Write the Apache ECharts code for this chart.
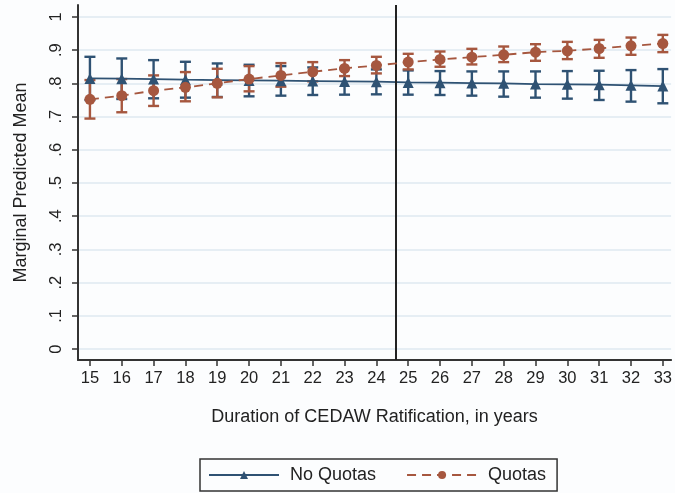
<!DOCTYPE html>
<html><head><meta charset="utf-8">
<script src="https://cdn.jsdelivr.net/npm/echarts@6/dist/echarts.min.js"></script>
<style>html,body{margin:0;padding:0;background:#fcfdfe}#c{width:675px;height:493px}</style>
</head><body><div id="c"></div>
<script>
const years = [15,16,17,18,19,20,21,22,23,24,25,26,27,28,29,30,31,32,33];
const noQuotaMean = [0.815,0.814,0.813,0.811,0.810,0.809,0.808,0.807,0.806,0.805,0.803,0.802,0.801,0.800,0.798,0.797,0.796,0.794,0.792];
const noQuotaLow  = [0.750,0.753,0.755,0.757,0.759,0.761,0.763,0.765,0.766,0.767,0.766,0.765,0.763,0.760,0.757,0.754,0.750,0.745,0.740];
const noQuotaHigh = [0.880,0.875,0.870,0.865,0.860,0.856,0.852,0.848,0.845,0.842,0.839,0.837,0.836,0.836,0.836,0.837,0.838,0.840,0.843];
const quotaMean = [0.752,0.763,0.778,0.788,0.800,0.813,0.824,0.835,0.845,0.854,0.864,0.872,0.879,0.886,0.894,0.898,0.905,0.913,0.920];
const quotaLow  = [0.694,0.713,0.732,0.746,0.758,0.776,0.790,0.806,0.822,0.830,0.842,0.850,0.857,0.864,0.868,0.873,0.877,0.886,0.894];
const quotaHigh = [0.810,0.813,0.824,0.834,0.844,0.852,0.861,0.864,0.870,0.880,0.889,0.896,0.904,0.911,0.918,0.925,0.931,0.938,0.946];
const yTicks = [0,0.1,0.2,0.3,0.4,0.5,0.6,0.7,0.8,0.9,1];
const cutoff = 24.6;

const BLUE = '#2f5273', RED = '#a6573f';
function errBar(color){
  return function(params, api){
    const x = api.value(0), lo = api.value(1), hi = api.value(2);
    const p1 = api.coord([x, lo]), p2 = api.coord([x, hi]);
    const w = 5.5;
    const st = {stroke: color, lineWidth: 2.4};
    return {type:'group', children:[
      {type:'line', shape:{x1:p1[0],y1:p1[1],x2:p2[0],y2:p2[1]}, style:st},
      {type:'line', shape:{x1:p1[0]-w,y1:p1[1],x2:p1[0]+w,y2:p1[1]}, style:st},
      {type:'line', shape:{x1:p2[0]-w,y1:p2[1],x2:p2[0]+w,y2:p2[1]}, style:st}
    ]};
  };
}
const font = '"Liberation Sans", Arial, sans-serif';
const chart = echarts.init(document.getElementById('c'));
chart.setOption({
  backgroundColor:'#fcfdfe',
  animation:false,
  textStyle:{fontFamily:font},
  grid:{left:78, right:0, top:5, bottom:133},
  xAxis:{type:'value', min:14.625, max:33.26,
    axisLine:{onZero:false, lineStyle:{color:'#333', width:2}},
    axisTick:{show:true, length:6, lineStyle:{color:'#333', width:1.5}, customValues:years},
    axisLabel:{customValues:years, color:'#222', fontSize:16.5, margin:10, fontFamily:font},
    splitLine:{show:false},
    name:'Duration of CEDAW Ratification, in years', nameLocation:'middle', nameGap:48,
    nameTextStyle:{fontSize:18, color:'#222', fontFamily:font}
  },
  yAxis:{type:'value', min:-0.033, max:1.036,
    axisLine:{show:true, onZero:false, lineStyle:{color:'#333', width:2}},
    axisTick:{show:true, length:6, lineStyle:{color:'#333', width:1.5}, customValues:yTicks},
    axisLabel:{customValues:yTicks, rotate:90, color:'#222', fontSize:16.5, margin:13, fontFamily:font,
      formatter:v=> v===0?'0':(v===1?'1':String(v.toFixed(1)).replace(/^0/,''))},
    splitLine:{show:false},
    name:'Marginal Predicted Mean', nameLocation:'middle', nameGap:48,
    nameTextStyle:{fontSize:18, color:'#222', fontFamily:font}
  },
  legend:{bottom:2, left:200, data:['No Quotas','Quotas'], itemWidth:70, itemHeight:10, itemGap:30,
    borderColor:'#333', borderWidth:1.5, borderRadius:0, padding:[7,11,7,8],
    textStyle:{fontSize:18, color:'#222', fontFamily:font, padding:[0,0,0,6]}},
  series:[
    {type:'line', name:'grid', silent:true, data:[], z:0, markLine:{z:0, silent:true, symbol:'none', label:{show:false},
      lineStyle:{color:'#dfe9f1', type:'solid', width:1.5},
      data: yTicks.map(v=>({yAxis:v}))}},
    {type:'custom', name:'nqci', renderItem:errBar(BLUE), data:years.map((y,i)=>[y,noQuotaLow[i],noQuotaHigh[i]]), z:3},
    {type:'custom', name:'qci', renderItem:errBar(RED), data:years.map((y,i)=>[y,quotaLow[i],quotaHigh[i]]), z:3},
    {type:'line', name:'No Quotas', data:years.map((y,i)=>[y,noQuotaMean[i]]), symbol:'triangle', symbolSize:11,
      lineStyle:{color:BLUE, width:1.8}, itemStyle:{color:BLUE}, z:4,
      markLine:{silent:true, symbol:'none', label:{show:false}, lineStyle:{color:'#222', type:'solid', width:2}, data:[{xAxis:cutoff}]}},
    {type:'line', name:'Quotas', data:years.map((y,i)=>[y,quotaMean[i]]), symbol:'circle', symbolSize:11,
      lineStyle:{color:RED, width:1.8, type:[9,6]}, itemStyle:{color:RED}, z:5}
  ]
});
</script></body></html>
